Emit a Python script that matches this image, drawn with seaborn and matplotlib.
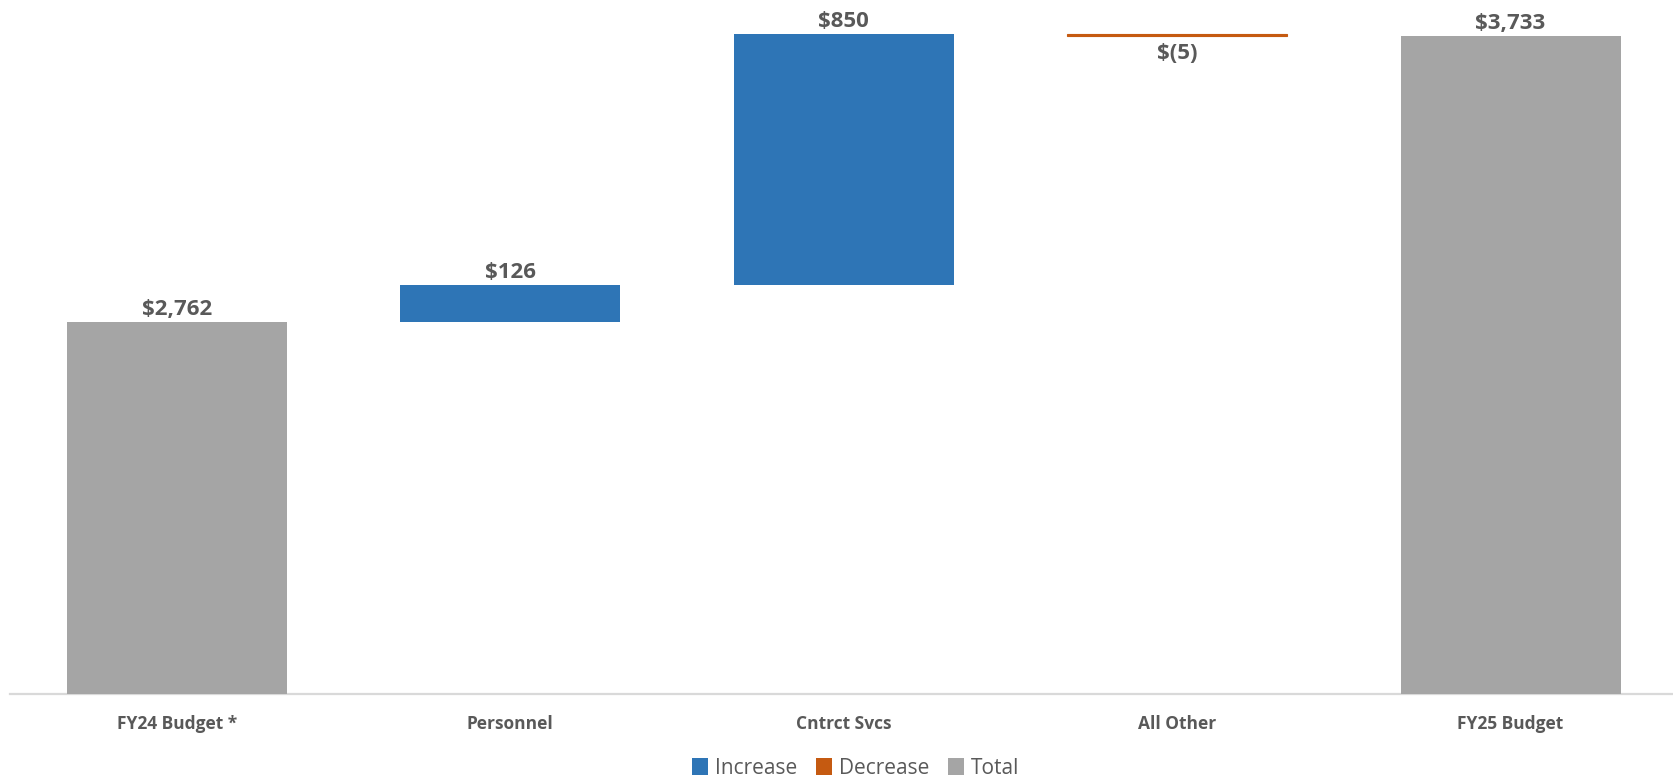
import matplotlib
matplotlib.use("Agg")
import matplotlib.pyplot as plt
from matplotlib.patches import Patch
import seaborn as sns

# Budget bridge, FY24 -> FY25 (in $)
categories = ["FY24 Budget *", "Personnel", "Cntrct Svcs", "All Other", "FY25 Budget"]
values = [2762, 126, 850, -5, 3733]
kinds = ["Total", "Increase", "Increase", "Decrease", "Total"]
legend_labels = ["Increase", "Decrease", "Total"]

palette = {"Increase": "#2E75B6", "Decrease": "#C55A11", "Total": "#A5A5A5"}
text_color = "#595959"

sns.set_theme(style="white")
plt.rcParams["font.family"] = ["Open Sans", "DejaVu Sans"]

fig = plt.figure(figsize=(16.74, 7.81), dpi=100)
ax = fig.add_axes([10 / 1674, 87 / 781, 1664 / 1674, 694 / 781])

# floating bars: totals start at zero, changes start at the running sum
bases = []
running = 0
for val, kind in zip(values, kinds):
    if kind == "Total":
        bases.append(0)
        running = val
    else:
        bases.append(running)
        running += val

for cat, val, kind, base in zip(categories, values, kinds, bases):
    sns.barplot(x=[cat], y=[val], order=categories, bottom=base,
                color=palette[kind], saturation=1, width=0.66,
                edgecolor=palette[kind], linewidth=0.8 if kind == "Decrease" else 0,
                errorbar=None, ax=ax, zorder=3)


def fmt(v):
    return f"$({abs(v):,})" if v < 0 else f"${v:,}"


for i, (val, base) in enumerate(zip(values, bases)):
    top = base + val
    if val >= 0:
        ax.annotate(fmt(val), (i, top), xytext=(0, 1.5), textcoords="offset points",
                    ha="center", va="bottom", fontsize=16, fontweight="bold",
                    color=text_color)
    else:
        ax.annotate(fmt(val), (i, base), xytext=(0, -6.5), textcoords="offset points",
                    ha="center", va="top", fontsize=16, fontweight="bold",
                    color=text_color)

ax.set_xlim(-0.5, 4.49)
ax.set_ylim(1500, 3854)
ax.set_xlabel("")
ax.set_ylabel("")
ax.set_yticks([])
ax.tick_params(axis="x", length=0, pad=15, labelsize=12.5, labelcolor=text_color)
for lbl in ax.get_xticklabels():
    lbl.set_fontweight("bold")

for side in ["top", "left", "right"]:
    ax.spines[side].set_visible(False)
ax.spines["bottom"].set_color("#D9D9D9")
ax.spines["bottom"].set_linewidth(1.6)
ax.spines["bottom"].set_zorder(2)

handles = [Patch(facecolor=palette[k], edgecolor="none") for k in legend_labels]
fig.legend(handles, legend_labels, loc="center", bbox_to_anchor=(856 / 1674, 1 - 768 / 781),
           ncol=3, frameon=False, fontsize=15, labelcolor=text_color,
           handlelength=0.75, handleheight=0.9, handletextpad=0.35, columnspacing=0.9)

fig.savefig("out.png", dpi=100)
